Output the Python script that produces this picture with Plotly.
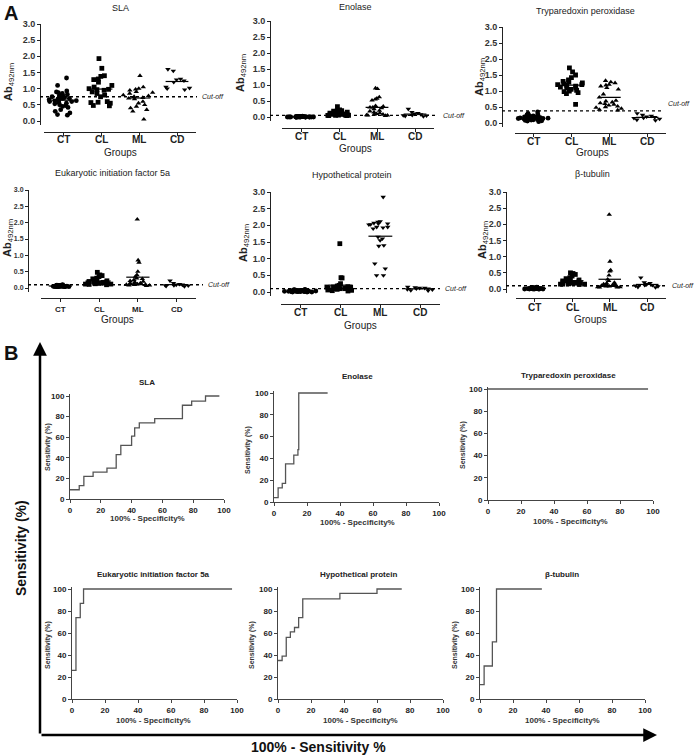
import plotly.graph_objects as go

W, H = 696, 756
FONT = "Liberation Sans, Arial, sans-serif"

groups = ["CT", "CL", "ML", "CD"]

# ---------------- Panel A data (Ab492nm) ----------------
sla_ct = [1.33, 1.1, 0.93, 0.9, 0.88, 0.85, 0.82, 0.8, 0.78, 0.75, 0.73, 0.72, 0.7, 0.7, 0.68, 0.66, 0.65,
          0.63, 0.62, 0.6, 0.6, 0.58, 0.55, 0.53, 0.5, 0.48, 0.45, 0.42, 0.35, 0.3, 0.25, 0.2, 0.18]
sla_cl = [1.93, 1.63, 1.4, 1.38, 1.3, 1.28, 1.2, 1.1, 1.05, 1.0, 0.98, 0.97, 0.95, 0.9, 0.85, 0.8, 0.75,
          0.6, 0.58, 0.57, 0.55, 0.48, 0.47]
sla_ml = [1.4, 1.05, 1.0, 0.98, 0.95, 0.9, 0.88, 0.85, 0.8, 0.78, 0.75, 0.72, 0.7, 0.68, 0.6, 0.55, 0.5,
          0.45, 0.4, 0.35, 0.3, 0.05]
sla_cd = [1.6, 1.55, 1.3, 1.28, 1.25, 1.2, 1.05, 1.02, 1.0, 0.97]

eno_ct = [0.03, 0.02, 0.02, 0.02, 0.01, 0.01, 0.01, 0.01, 0.01, 0.01, 0.0, 0.0, 0.0, 0.0, 0.0, 0.0, 0.0,
          0.0, 0.0, 0.0, 0.0, 0.0, 0.0, 0.01, 0.01, 0.01, 0.02, 0.0, 0.0, 0.0, 0.01, 0.0, 0.0]
eno_cl = [0.32, 0.22, 0.2, 0.2, 0.18, 0.18, 0.15, 0.15, 0.12, 0.12, 0.1, 0.1, 0.1, 0.08, 0.08, 0.08, 0.06,
          0.06, 0.05, 0.05, 0.05, 0.04, 0.04]
eno_ml = [0.9, 0.88, 0.62, 0.58, 0.55, 0.52, 0.35, 0.33, 0.3, 0.3, 0.28, 0.25, 0.2, 0.18, 0.15, 0.12, 0.1,
          0.08, 0.08, 0.06, 0.05, 0.05, 0.04]
eno_cd = [0.25, 0.15, 0.12, 0.1, 0.08, 0.06, 0.05, 0.04, 0.03, 0.02]

try_ct = [0.35, 0.3, 0.28, 0.25, 0.24, 0.22, 0.22, 0.2, 0.2, 0.19, 0.18, 0.18, 0.17, 0.17, 0.16, 0.16, 0.15,
          0.15, 0.15, 0.14, 0.14, 0.13, 0.13, 0.12, 0.12, 0.11, 0.1, 0.1, 0.09, 0.08, 0.07, 0.06, 0.04]
try_cl = [1.72, 1.6, 1.5, 1.42, 1.35, 1.3, 1.28, 1.25, 1.22, 1.2, 1.2, 1.18, 1.15, 1.12, 1.1, 1.1, 1.05,
          1.02, 1.0, 0.98, 0.95, 0.92, 0.58]
try_ml = [1.32, 1.28, 1.25, 1.2, 1.18, 1.15, 1.1, 1.05, 0.9, 0.8, 0.7, 0.68, 0.65, 0.62, 0.6, 0.58, 0.55,
          0.52, 0.5, 0.48, 0.45, 0.42, 0.4]
try_cd = [0.3, 0.25, 0.22, 0.2, 0.18, 0.16, 0.15, 0.13, 0.1, 0.08]

eif_ct = [0.1, 0.09, 0.09, 0.08, 0.08, 0.08, 0.07, 0.07, 0.07, 0.07, 0.06, 0.06, 0.06, 0.06, 0.06, 0.05, 0.05,
          0.05, 0.05, 0.05, 0.05, 0.04, 0.04, 0.04, 0.04, 0.04, 0.06, 0.07, 0.05, 0.06, 0.08, 0.05, 0.04]
eif_cl = [0.48, 0.4, 0.38, 0.35, 0.3, 0.28, 0.25, 0.22, 0.2, 0.2, 0.18, 0.18, 0.17, 0.16, 0.15, 0.15, 0.14,
          0.14, 0.13, 0.12, 0.12, 0.11, 0.1]
eif_ml = [2.1, 0.85, 0.78, 0.5, 0.4, 0.35, 0.3, 0.28, 0.25, 0.22, 0.2, 0.18, 0.15, 0.15, 0.14, 0.12, 0.12,
          0.1, 0.1, 0.1, 0.08, 0.08, 0.07]
eif_cd = [0.22, 0.15, 0.12, 0.1, 0.1, 0.08, 0.08, 0.07, 0.06, 0.05]

hyp_ct = [0.08, 0.07, 0.06, 0.06, 0.05, 0.05, 0.05, 0.04, 0.04, 0.04, 0.04, 0.03, 0.03, 0.03, 0.03, 0.03, 0.02,
          0.02, 0.02, 0.02, 0.02, 0.02, 0.01, 0.01, 0.01, 0.01, 0.01, 0.0, 0.0, 0.0, 0.03, 0.04, 0.02]
hyp_cl = [1.45, 0.43, 0.42, 0.25, 0.2, 0.18, 0.18, 0.16, 0.15, 0.15, 0.14, 0.13, 0.12, 0.12, 0.1, 0.1, 0.1,
          0.08, 0.08, 0.06, 0.05, 0.04, 0.03]
hyp_ml = [2.85, 2.12, 2.1, 2.07, 2.05, 2.05, 2.03, 2.02, 1.95, 1.95, 1.93, 1.9, 1.65, 1.6, 1.55, 1.4, 1.38,
          0.85, 0.7, 0.5, 0.5]
hyp_cd = [0.15, 0.14, 0.12, 0.12, 0.1, 0.1, 0.08, 0.07, 0.05, 0.04]

tub_ct = [0.06, 0.05, 0.05, 0.04, 0.04, 0.04, 0.03, 0.03, 0.03, 0.03, 0.02, 0.02, 0.02, 0.02, 0.02, 0.02, 0.01,
          0.01, 0.01, 0.01, 0.01, 0.01, 0.0, 0.0, 0.0, 0.0, 0.0, 0.0, 0.01, 0.02, 0.03, 0.01, 0.0]
tub_cl = [0.5, 0.48, 0.45, 0.4, 0.35, 0.32, 0.3, 0.28, 0.25, 0.25, 0.22, 0.22, 0.2, 0.2, 0.2, 0.18, 0.18,
          0.18, 0.16, 0.15, 0.15, 0.15, 0.14]
tub_ml = [2.3, 0.85, 0.58, 0.55, 0.42, 0.3, 0.25, 0.2, 0.18, 0.15, 0.15, 0.12, 0.12, 0.1, 0.1, 0.1, 0.08,
          0.08, 0.08, 0.06, 0.06, 0.05, 0.05]
tub_cd = [0.35, 0.2, 0.18, 0.15, 0.12, 0.12, 0.1, 0.08, 0.06, 0.05]

cutoffs = {"SLA": 0.75, "Enolase": 0.05, "Tryparedoxin peroxidase": 0.38,
           "Eukaryotic initiation factor 5a": 0.1, "Hypothetical protein": 0.1, "β-tubulin": 0.1}

# ---------------- Panel B data (ROC) ----------------
roc_sla_fpr = [0, 6, 9, 15, 24, 30, 33, 40, 42, 45, 55, 73, 79, 88, 97]
roc_sla_tpr = [9, 13, 22, 26, 30, 43, 52, 61, 69, 74, 78, 91, 95, 100, 100]
roc_eno_fpr = [0, 2.5, 5, 7, 12, 14.5, 15, 32.5]
roc_eno_tpr = [4, 13, 17, 35, 43, 48, 100, 100]
roc_try_fpr = [0, 97]
roc_try_tpr = [100, 100]
roc_eif_fpr = [0, 2.4, 5, 7, 97]
roc_eif_tpr = [26, 74, 87, 100, 100]
roc_hyp_fpr = [0, 2.5, 5, 7.5, 10, 12.5, 15, 37.5, 60, 75]
roc_hyp_tpr = [35, 39, 56, 61, 65, 74, 91, 96, 100, 100]
roc_tub_fpr = [0, 2.5, 7.5, 10, 37.5]
roc_tub_tpr = [13, 30, 52, 100, 100]

# ---------------- layout geometry (pixels) ----------------
def fx(p):
    return p / W


def fy(p):
    return 1 - p / H


scatter_panels = [
    dict(name="SLA", data=[sla_ct, sla_cl, sla_ml, sla_cd], ml="triangle-up",
         yline=40, y3=24, y0=121, xline=132, xdom=(44, 196), cut_end=197, cut_dy=0, cat_y=140,
         title=(120, 8), groups=(120, 153), ytitle=(9, 82), tick=9),
    dict(name="Enolase", data=[eno_ct, eno_cl, eno_ml, eno_cd], ml="triangle-up",
         yline=270, y3=21, y0=117, xline=128, xdom=(282, 434), cut_end=438, cut_dy=0, cat_y=137,
         title=(355, 7), groups=(355, 148), ytitle=(241, 73), tick=9),
    dict(name="Tryparedoxin peroxidase", data=[try_ct, try_cl, try_ml, try_cd], ml="triangle-up",
         yline=502, y3=27, y0=123, xline=133, xdom=(515, 666), cut_end=663, cut_dy=7, cat_y=141,
         title=(585, 11), groups=(592, 153), ytitle=(480, 77), tick=9),
    dict(name="Eukaryotic initiation factor 5a", data=[eif_ct, eif_cl, eif_ml, eif_cd], ml="triangle-up",
         yline=28, y3=190, y0=288, xline=298, xdom=(41, 196), cut_end=203, cut_dy=0, cat_y=309,
         title=(112, 173), groups=(117, 319), ytitle=(8, 238), tick=7),
    dict(name="Hypothetical protein", data=[hyp_ct, hyp_cl, hyp_ml, hyp_cd], ml="triangle-down",
         yline=270, y3=192, y0=292, xline=304, xdom=(281, 440), cut_end=440, cut_dy=0, cat_y=312,
         title=(352, 175), groups=(360, 325), ytitle=(244, 243), tick=9),
    dict(name="β-tubulin", data=[tub_ct, tub_cl, tub_ml, tub_cd], ml="triangle-up",
         yline=506, y3=192, y0=289, xline=298, xdom=(516, 666), cut_end=667, cut_dy=0, cat_y=307,
         title=(592, 174), groups=(590, 319), ytitle=(483, 240), tick=9),
]

roc_panels = [
    dict(name="SLA", fpr=roc_sla_fpr, tpr=roc_sla_tpr, x0=70, x100=224, y0=499, y100=396,
         title=(147, 382), xtitle=(147, 518), ytitle=(48, 447)),
    dict(name="Enolase", fpr=roc_eno_fpr, tpr=roc_eno_tpr, x0=274, x100=439, y0=502, y100=393,
         title=(357, 377), xtitle=(357, 522), ytitle=(248, 450)),
    dict(name="Tryparedoxin peroxidase", fpr=roc_try_fpr, tpr=roc_try_tpr, x0=488, x100=653, y0=500, y100=389,
         title=(568, 375), xtitle=(570, 521), ytitle=(463, 445)),
    dict(name="Eukaryotic initiation factor 5a", fpr=roc_eif_fpr, tpr=roc_eif_tpr, x0=72, x100=237, y0=699,
         y100=589, title=(153, 574), xtitle=(153, 720), ytitle=(48, 645)),
    dict(name="Hypothetical protein", fpr=roc_hyp_fpr, tpr=roc_hyp_tpr, x0=278, x100=443, y0=699, y100=589,
         title=(358, 574), xtitle=(360, 720), ytitle=(252, 645)),
    dict(name="β-tubulin", fpr=roc_tub_fpr, tpr=roc_tub_tpr, x0=480, x100=645, y0=699, y100=589,
         title=(562, 574), xtitle=(562, 720), ytitle=(455, 645)),
]

symbols = ["circle", "square", None, "triangle-down"]


def label(x, y, text, size, color="#222", weight="normal", angle=0, xanchor="center", yshift=0,
          xref="paper", yref="paper"):
    return dict(xref=xref, yref=yref, x=fx(x) if xref == "paper" else x, y=fy(y) if yref == "paper" else y,
                text=text, showarrow=False, xanchor=xanchor, yanchor="middle", textangle=angle,
                yshift=yshift, font=dict(size=size, color=color, weight=weight, family=FONT))


fig = go.Figure()
layout = dict(template="none", width=W, height=H, margin=dict(l=0, r=0, t=0, b=0, pad=0),
              plot_bgcolor="white", paper_bgcolor="white", showlegend=False, hovermode=False,
              font=dict(family=FONT, color="#222"))
annotations = []
shapes = []

AX = "#222"
k = 0
for p in scatter_panels:
    k += 1
    xn = "x" if k == 1 else f"x{k}"
    yn = "y" if k == 1 else f"y{k}"
    scale = (p["y0"] - p["y3"]) / 3.0
    ylow = -0.12
    ydom_bottom = p["y0"] - ylow * scale
    for i, vals in enumerate(p["data"]):
        sym = symbols[i] if symbols[i] else p["ml"]
        fig.add_trace(go.Box(x=[i] * len(vals), y=vals, xaxis=xn, yaxis=yn, boxpoints="all",
                             jitter=1.0, pointpos=0, width=0.85,
                             marker=dict(symbol=sym, size=4.8, color="black"),
                             line=dict(color="rgba(0,0,0,0)", width=0), fillcolor="rgba(0,0,0,0)",
                             hoverinfo="skip"))
        m = sum(vals) / len(vals)
        fig.add_trace(go.Scatter(x=[i - 0.3, i + 0.3], y=[m, m], xaxis=xn, yaxis=yn, mode="lines",
                                 line=dict(color="black", width=1.2), hoverinfo="skip"))
        # category label under the axis
        annotations.append(label(i, p["cat_y"], groups[i], p["tick"] + 1, weight="bold",
                                 xref=xn))
    layout["xaxis" + ("" if k == 1 else str(k))] = dict(
        domain=[fx(p["xdom"][0]), fx(p["xdom"][1])], range=[-0.5, 3.5], anchor="free",
        position=fy(p["xline"]), tickvals=[0, 1, 2, 3], showticklabels=False, showline=True,
        linecolor=AX, linewidth=1, ticks="outside", ticklen=3, tickcolor=AX, showgrid=False,
        zeroline=False, automargin=False, fixedrange=True)
    layout["yaxis" + ("" if k == 1 else str(k))] = dict(
        domain=[fy(ydom_bottom), fy(p["y3"])], range=[ylow, 3.0], anchor="free",
        position=fx(p["yline"]), tickvals=[0, 0.5, 1, 1.5, 2, 2.5, 3], tickformat=".1f",
        showline=True, linecolor=AX, linewidth=1, ticks="outside", ticklen=3, tickcolor=AX,
        showgrid=False, zeroline=False, automargin=False, fixedrange=True,
        tickfont=dict(size=p["tick"], weight="bold", family=FONT, color="#333"))
    cut = cutoffs[p["name"]]
    shapes.append(dict(type="line", xref="paper", yref=yn, x0=fx(p["yline"]), x1=fx(p["cut_end"]),
                       y0=cut, y1=cut, line=dict(color="black", width=1.3, dash="dot")))
    annotations.append(dict(xref="paper", yref=yn, x=fx(p["cut_end"] + 3), y=cut, yshift=p["cut_dy"],
                            text="<i>Cut-off</i>", showarrow=False, xanchor="left", yanchor="middle",
                            font=dict(size=7, color="#222", family=FONT)))
    annotations.append(label(p["title"][0], p["title"][1], p["name"], 9))
    annotations.append(label(p["groups"][0], p["groups"][1], "Groups", 10))
    annotations.append(label(p["ytitle"][0], p["ytitle"][1], "<b>Ab</b><sub>492nm</sub>", 11, angle=-90))

for p in roc_panels:
    k += 1
    xn = f"x{k}"
    yn = f"y{k}"
    sc = (p["y0"] - p["y100"]) / 100.0
    ytop = 102
    fig.add_trace(go.Scatter(x=p["fpr"], y=p["tpr"], xaxis=xn, yaxis=yn, mode="lines",
                             line=dict(color="#555", width=1.3, shape="hv"), hoverinfo="skip"))
    layout[f"xaxis{k}"] = dict(domain=[fx(p["x0"]), fx(p["x100"])], range=[0, 100], anchor=yn,
                               tickvals=[0, 20, 40, 60, 80, 100], showline=True, linecolor="#444",
                               linewidth=1, ticks="outside", ticklen=3, tickcolor="#444",
                               showgrid=False, zeroline=False, automargin=False, fixedrange=True,
                               tickfont=dict(size=8, weight="bold", family=FONT, color="#222"))
    layout[f"yaxis{k}"] = dict(domain=[fy(p["y0"]), fy(p["y100"] - (ytop - 100) * sc)], range=[0, ytop],
                               anchor=xn, tickvals=[0, 20, 40, 60, 80, 100], showline=True,
                               linecolor="#444", linewidth=1, ticks="outside", ticklen=3,
                               tickcolor="#444", showgrid=False, zeroline=False, automargin=False,
                               fixedrange=True,
                               tickfont=dict(size=8, weight="bold", family=FONT, color="#222"))
    annotations.append(label(p["title"][0], p["title"][1], p["name"], 8, weight="bold"))
    annotations.append(label(p["xtitle"][0], p["xtitle"][1], "100% - Specificity%", 8, color="#333",
                             weight="bold"))
    annotations.append(label(p["ytitle"][0], p["ytitle"][1], "Sensitivity (%)", 7, color="#333",
                             weight="bold", angle=-90))

# panel letters
annotations.append(label(11, 13, "A", 20, color="#111", weight="bold"))
annotations.append(label(11, 353, "B", 20, color="#111", weight="bold"))
# big arrows of panel B
annotations.append(dict(xref="paper", yref="paper", x=fx(40), y=fy(342), ax=0, ay=393, text="",
                        showarrow=True, arrowhead=2, arrowsize=1.1, arrowwidth=2.5, arrowcolor="black"))
annotations.append(dict(xref="paper", yref="paper", x=fx(657), y=fy(735), ax=-617, ay=0, text="",
                        showarrow=True, arrowhead=2, arrowsize=1.1, arrowwidth=2.5, arrowcolor="black"))
annotations.append(label(21, 548, "Sensitivity (%)", 14, color="#111", weight="bold", angle=-90))
annotations.append(label(318, 747, "100% - Sensitivity %", 14, color="#111", weight="bold"))

layout["annotations"] = annotations
layout["shapes"] = shapes
fig.update_layout(**layout)
fig.write_html("out.html", config={"displayModeBar": False, "staticPlot": True},
               post_script="document.body.style.margin='0';")
